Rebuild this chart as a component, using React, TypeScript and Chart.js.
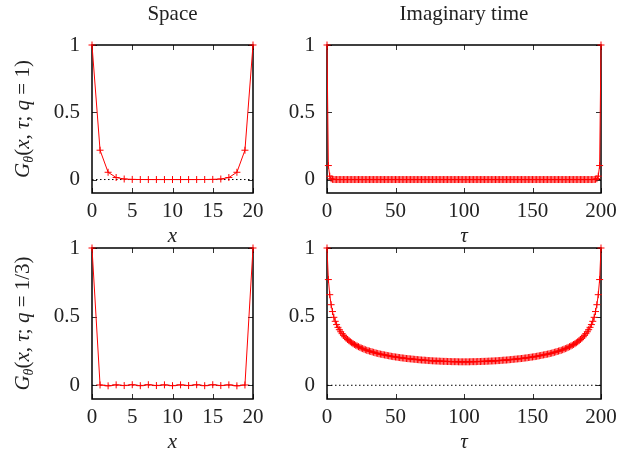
import React, { useEffect, useRef } from 'react';
import { Chart, registerables } from 'chart.js';

Chart.register(...registerables);

const PAGE_W = 621;
const PAGE_H = 449;
const FONT = "'Liberation Serif', 'Times New Roman', serif";
const TEXT = '#222';
const RED = '#ff0000';

// ---------- data ----------
const spaceX = [0, 1, 2, 3, 4, 5, 6, 7, 8, 9, 10, 11, 12, 13, 14, 15, 16, 17, 18, 19, 20];
const spaceTicks = [0, 5, 10, 15, 20];

const spaceQ1 = [1, 0.218, 0.054, 0.015, 0.004, 0.001, 0.0003, 0.0001, 0, 0, 0, 0, 0, 0.0001, 0.0003, 0.001, 0.004, 0.015, 0.054, 0.218, 1];
const spaceQ13 = [1, 0.002, -0.004, 0.003, -0.002, 0.004, -0.003, 0.004, -0.002, 0.003, -0.003, 0.003, -0.002, 0.004, -0.003, 0.004, -0.002, 0.003, -0.004, 0.002, 1];

const tau = [
  0, 1, 2, 3, 4, 5, 6, 7, 8, 9, 10, 11, 12, 13, 14, 15, 16, 17, 18, 19,
  20, 21, 22, 23, 24, 25, 26, 27, 28, 29, 30, 31, 32, 33, 34, 35, 36, 37, 38, 39,
  40, 41, 42, 43, 44, 45, 46, 47, 48, 49, 50, 51, 52, 53, 54, 55, 56, 57, 58, 59,
  60, 61, 62, 63, 64, 65, 66, 67, 68, 69, 70, 71, 72, 73, 74, 75, 76, 77, 78, 79,
  80, 81, 82, 83, 84, 85, 86, 87, 88, 89, 90, 91, 92, 93, 94, 95, 96, 97, 98, 99,
  100, 101, 102, 103, 104, 105, 106, 107, 108, 109, 110, 111, 112, 113, 114, 115, 116, 117, 118, 119,
  120, 121, 122, 123, 124, 125, 126, 127, 128, 129, 130, 131, 132, 133, 134, 135, 136, 137, 138, 139,
  140, 141, 142, 143, 144, 145, 146, 147, 148, 149, 150, 151, 152, 153, 154, 155, 156, 157, 158, 159,
  160, 161, 162, 163, 164, 165, 166, 167, 168, 169, 170, 171, 172, 173, 174, 175, 176, 177, 178, 179,
  180, 181, 182, 183, 184, 185, 186, 187, 188, 189, 190, 191, 192, 193, 194, 195, 196, 197, 198, 199,
  200,
];
const tauTicks = [0, 50, 100, 150, 200];

const tauQ1 = [
  1, 0.104, 0.025, 0.006, 0.0015, 0.0004, 0.0001, 0, 0, 0,
  0, 0, 0, 0, 0, 0, 0, 0, 0, 0, 0, 0, 0, 0, 0, 0, 0, 0, 0, 0,
  0, 0, 0, 0, 0, 0, 0, 0, 0, 0, 0, 0, 0, 0, 0, 0, 0, 0, 0, 0,
  0, 0, 0, 0, 0, 0, 0, 0, 0, 0, 0, 0, 0, 0, 0, 0, 0, 0, 0, 0,
  0, 0, 0, 0, 0, 0, 0, 0, 0, 0, 0, 0, 0, 0, 0, 0, 0, 0, 0, 0,
  0, 0, 0, 0, 0, 0, 0, 0, 0, 0, 0, 0, 0, 0, 0, 0, 0, 0, 0, 0,
  0, 0, 0, 0, 0, 0, 0, 0, 0, 0, 0, 0, 0, 0, 0, 0, 0, 0, 0, 0,
  0, 0, 0, 0, 0, 0, 0, 0, 0, 0, 0, 0, 0, 0, 0, 0, 0, 0, 0, 0,
  0, 0, 0, 0, 0, 0, 0, 0, 0, 0, 0, 0, 0, 0, 0, 0, 0, 0, 0, 0,
  0, 0, 0, 0, 0, 0, 0, 0, 0, 0, 0, 0, 0, 0, 0, 0, 0, 0, 0, 0,
  0, 0, 0, 0, 0.0001, 0.0004, 0.0015, 0.006, 0.025, 0.104, 1,
];

const tauQ13 = [
  1, 0.770, 0.660, 0.587, 0.537, 0.495, 0.466, 0.442, 0.422, 0.405,
  0.390, 0.376, 0.364, 0.353, 0.343, 0.334, 0.325, 0.317, 0.310, 0.303,
  0.297, 0.291, 0.286, 0.281, 0.276, 0.271, 0.267, 0.263, 0.259, 0.255,
  0.252, 0.249, 0.246, 0.243, 0.240, 0.237, 0.234, 0.232, 0.229, 0.227,
  0.225, 0.223, 0.221, 0.219, 0.217, 0.215, 0.213, 0.211, 0.209, 0.208,
  0.206, 0.205, 0.203, 0.202, 0.200, 0.199, 0.198, 0.196, 0.195, 0.194,
  0.193, 0.192, 0.191, 0.190, 0.189, 0.188, 0.187, 0.186, 0.185, 0.184,
  0.183, 0.183, 0.182, 0.181, 0.180, 0.180, 0.179, 0.178, 0.178, 0.177,
  0.177, 0.176, 0.176, 0.175, 0.175, 0.174, 0.174, 0.174, 0.173, 0.173,
  0.173, 0.172, 0.172, 0.172, 0.172, 0.172, 0.171, 0.171, 0.171, 0.171,
  0.171,
  0.171, 0.171, 0.171, 0.171, 0.172, 0.172, 0.172, 0.172, 0.172, 0.173,
  0.173, 0.173, 0.174, 0.174, 0.174, 0.175, 0.175, 0.176, 0.176, 0.177,
  0.177, 0.178, 0.178, 0.179, 0.180, 0.180, 0.181, 0.182, 0.183, 0.183,
  0.184, 0.185, 0.186, 0.187, 0.188, 0.189, 0.190, 0.191, 0.192, 0.193,
  0.194, 0.195, 0.196, 0.198, 0.199, 0.200, 0.202, 0.203, 0.205, 0.206,
  0.208, 0.209, 0.211, 0.213, 0.215, 0.217, 0.219, 0.221, 0.223, 0.225,
  0.227, 0.229, 0.232, 0.234, 0.237, 0.240, 0.243, 0.246, 0.249, 0.252,
  0.255, 0.259, 0.263, 0.267, 0.271, 0.276, 0.281, 0.286, 0.291, 0.297,
  0.303, 0.310, 0.317, 0.325, 0.334, 0.343, 0.353, 0.364, 0.376, 0.390,
  0.405, 0.422, 0.442, 0.466, 0.495, 0.537, 0.587, 0.660, 0.770, 1,
];

const yTicks = [0, 0.5, 1];
const Y_MIN = -0.1;
const Y_MAX = 1;
const ZERO_LEVEL = 0;

const titleSpace = 'Space';
const titleTime = 'Imaginary time';
const labelX = 'x';
const labelTau = 'τ';

type Part = { t: string; it?: boolean; sub?: boolean };
const yTitleQ1: Part[] = [
  { t: 'G', it: true }, { t: 'θ', it: true, sub: true }, { t: '(' }, { t: 'x', it: true }, { t: ', ' },
  { t: 'τ', it: true }, { t: '; ' }, { t: 'q', it: true }, { t: ' = 1)' },
];
const yTitleQ13: Part[] = [
  { t: 'G', it: true }, { t: 'θ', it: true, sub: true }, { t: '(' }, { t: 'x', it: true }, { t: ', ' },
  { t: 'τ', it: true }, { t: '; ' }, { t: 'q', it: true }, { t: ' = 1/3)' },
];

// ---------- frame / ticks / rich y-title plugin ----------
const TICK_LEN = 5;
const framePlugin = {
  id: 'gnuFrame',
  beforeDatasetsDraw(chart: any) {
    const { ctx, chartArea: a, scales } = chart;
    const xs = scales.x;
    const ys = scales.y;
    ctx.save();
    ctx.strokeStyle = '#333';
    ctx.lineWidth = 1;
    ctx.beginPath();
    xs.ticks.forEach((t: any) => {
      const px = Math.round(xs.getPixelForValue(t.value)) + 0.5;
      ctx.moveTo(px, a.bottom);
      ctx.lineTo(px, a.bottom - TICK_LEN);
      ctx.moveTo(px, a.top);
      ctx.lineTo(px, a.top + TICK_LEN);
    });
    ys.ticks.forEach((t: any) => {
      const py = Math.round(ys.getPixelForValue(t.value)) + 0.5;
      ctx.moveTo(a.left, py);
      ctx.lineTo(a.left + TICK_LEN, py);
      ctx.moveTo(a.right, py);
      ctx.lineTo(a.right - TICK_LEN, py);
    });
    ctx.stroke();
    ctx.strokeStyle = '#000';
    ctx.lineWidth = 1.5;
    ctx.strokeRect(a.left, a.top, a.right - a.left, a.bottom - a.top);
    ctx.restore();
  },
  afterDraw(chart: any, _args: any, opts: any) {
    const parts: Part[] | undefined = opts && opts.parts;
    if (!parts) return;
    const { ctx, chartArea: a } = chart;
    const fontOf = (p: Part) => `${p.it ? 'italic ' : ''}${p.sub ? 14 : 21}px ${FONT}`;
    ctx.save();
    ctx.translate(opts.baseX, (a.top + a.bottom) / 2);
    ctx.rotate(-Math.PI / 2);
    ctx.fillStyle = TEXT;
    ctx.textBaseline = 'alphabetic';
    ctx.textAlign = 'left';
    let total = 0;
    parts.forEach((p) => {
      ctx.font = fontOf(p);
      total += ctx.measureText(p.t).width;
    });
    let x = -total / 2;
    parts.forEach((p) => {
      ctx.font = fontOf(p);
      ctx.fillText(p.t, x, p.sub ? 4 : 0);
      x += ctx.measureText(p.t).width;
    });
    ctx.restore();
  },
};

type Panel = {
  xs: number[];
  ys: number[];
  xTicks: number[];
  xMin: number;
  xMax: number;
  xTitle: string;
  topTitle?: string;
  yTitle?: Part[];
  pad: { left: number; right: number; top: number; bottom: number };
};

const plainLabel = (v: any) => String(v);

function makeConfig(p: Panel): any {
  const scales: any = {
    x: {
      type: 'linear',
      position: 'bottom',
      min: p.xMin,
      max: p.xMax,
      grid: { display: false, drawTicks: false },
      border: { display: false },
      ticks: { font: { family: FONT, size: 21 }, color: TEXT, padding: 6, maxRotation: 0, autoSkip: false, callback: plainLabel },
      afterBuildTicks: (s: any) => {
        s.ticks = p.xTicks.map((v) => ({ value: v }));
      },
      afterFit: (s: any) => {
        s.height = 50;
        s.paddingLeft = 0;
        s.paddingRight = 0;
      },
      title: {
        display: true,
        text: p.xTitle,
        color: TEXT,
        padding: 0,
        font: { family: FONT, size: 21, style: 'italic', lineHeight: 0.62 },
      },
    },
    y: {
      type: 'linear',
      position: 'left',
      min: Y_MIN,
      max: Y_MAX,
      grid: { display: false, drawTicks: false },
      border: { display: false },
      ticks: { font: { family: FONT, size: 21 }, color: TEXT, padding: 12, callback: plainLabel },
      afterBuildTicks: (s: any) => {
        s.ticks = yTicks.map((v) => ({ value: v }));
      },
      afterFit: (s: any) => {
        s.width = 60;
        s.paddingTop = 0;
        s.paddingBottom = 0;
      },
    },
  };
  if (p.topTitle) {
    scales.xt = {
      type: 'linear',
      position: 'top',
      min: p.xMin,
      max: p.xMax,
      grid: { display: false, drawTicks: false },
      border: { display: false },
      ticks: { display: false },
      afterFit: (s: any) => {
        s.height = 45;
        s.paddingLeft = 0;
        s.paddingRight = 0;
      },
      title: {
        display: true,
        text: p.topTitle,
        color: TEXT,
        padding: { top: 2, bottom: 0 },
        font: { family: FONT, size: 21, lineHeight: 1.2 },
      },
    };
  }
  return {
    type: 'line',
    data: {
      labels: p.xs,
      datasets: [
        {
          data: p.ys,
          borderColor: RED,
          borderWidth: 1,
          pointStyle: 'cross',
          pointRadius: 3.5,
          pointBorderColor: RED,
          pointBackgroundColor: RED,
          pointBorderWidth: 1,
          tension: 0,
          fill: false,
          clip: 8,
          order: 0,
        },
        {
          data: [
            { x: p.xMin, y: ZERO_LEVEL },
            { x: p.xMax, y: ZERO_LEVEL },
          ],
          borderColor: '#000',
          borderWidth: 1,
          borderDash: [1.5, 2.5],
          pointRadius: 0,
          fill: false,
          order: 1,
        },
      ],
    },
    options: {
      responsive: false,
      animation: false,
      events: [],
      layout: { padding: p.pad },
      plugins: {
        legend: { display: false },
        tooltip: { enabled: false },
        gnuFrame: p.yTitle ? { parts: p.yTitle, baseX: 29 } : {},
      },
      scales,
    },
    plugins: [framePlugin],
  };
}

const panels: Panel[] = [
  {
    xs: spaceX, ys: spaceQ1, xTicks: spaceTicks, xMin: 0, xMax: 20, xTitle: labelX,
    topTitle: titleSpace, yTitle: yTitleQ1,
    pad: { left: 32, right: 368, top: 0, bottom: 206 },
  },
  {
    xs: tau, ys: tauQ1, xTicks: tauTicks, xMin: 0, xMax: 200, xTitle: labelTau,
    topTitle: titleTime,
    pad: { left: 267, right: 20, top: 0, bottom: 206 },
  },
  {
    xs: spaceX, ys: spaceQ13, xTicks: spaceTicks, xMin: 0, xMax: 20, xTitle: labelX,
    yTitle: yTitleQ13,
    pad: { left: 32, right: 368, top: 248, bottom: 0 },
  },
  {
    xs: tau, ys: tauQ13, xTicks: tauTicks, xMin: 0, xMax: 200, xTitle: labelTau,
    pad: { left: 267, right: 20, top: 248, bottom: 0 },
  },
];

export default function App() {
  const r0 = useRef<HTMLCanvasElement>(null);
  const r1 = useRef<HTMLCanvasElement>(null);
  const r2 = useRef<HTMLCanvasElement>(null);
  const r3 = useRef<HTMLCanvasElement>(null);

  useEffect(() => {
    document.body.style.margin = '0';
    const refs = [r0, r1, r2, r3];
    const charts = refs.map((r, i) => new Chart(r.current as HTMLCanvasElement, makeConfig(panels[i])));
    return () => charts.forEach((c) => c.destroy());
  }, []);

  const cs: React.CSSProperties = { position: 'absolute', left: 0, top: 0, width: PAGE_W, height: PAGE_H };
  return (
    <div style={{ position: 'relative', width: PAGE_W, height: PAGE_H, background: '#fff' }}>
      <canvas ref={r0} width={PAGE_W} height={PAGE_H} style={cs} />
      <canvas ref={r1} width={PAGE_W} height={PAGE_H} style={cs} />
      <canvas ref={r2} width={PAGE_W} height={PAGE_H} style={cs} />
      <canvas ref={r3} width={PAGE_W} height={PAGE_H} style={cs} />
    </div>
  );
}
